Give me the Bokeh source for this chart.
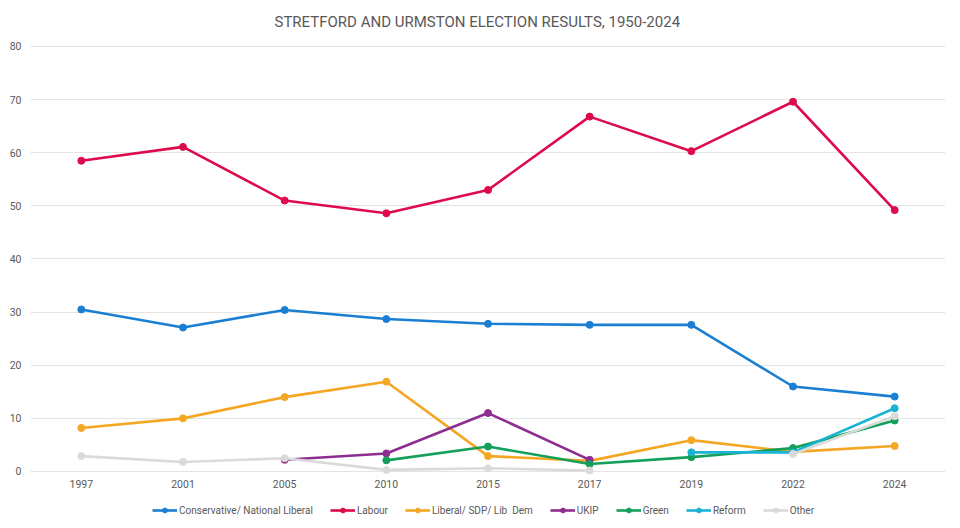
from bokeh.plotting import figure
from bokeh.models import ColumnDataSource, Range1d, FixedTicker, Legend, LegendItem
from bokeh.core.properties import value
from bokeh.embed import file_html
from bokeh.resources import INLINE

years = ["1997", "2001", "2005", "2010", "2015", "2017", "2019", "2022", "2024"]
conservative = [30.5, 27.1, 30.4, 28.7, 27.8, 27.6, 27.6, 16.0, 14.1]
labour = [58.5, 61.1, 51.0, 48.6, 53.0, 66.8, 60.3, 69.6, 49.2]
libdem = [8.2, 10.0, 14.0, 16.9, 2.9, 2.0, 5.9, 3.7, 4.8]
ukip = [None, None, 2.2, 3.4, 11.0, 2.2, None, None, None]
green = [None, None, None, 2.1, 4.7, 1.4, 2.7, 4.4, 9.6]
reform = [None, None, None, None, None, None, 3.6, 3.6, 11.9]
other = [2.9, 1.8, 2.5, 0.3, 0.6, 0.2, None, 3.3, 10.4]
y_ticks = [0, 10, 20, 30, 40, 50, 60, 70, 80]

series = [
    ("Conservative/ National Liberal", conservative, "#1A7FD2"),
    ("Labour", labour, "#DE0B4C"),
    ("Liberal/ SDP/ Lib  Dem", libdem, "#F5A623"),
    ("UKIP", ukip, "#8E2D91"),
    ("Green", green, "#12A05B"),
    ("Reform", reform, "#1BB3D3"),
    ("Other", other, "#DADADA"),
]

FONT = "Roboto"
GREY = "#595959"

p = figure(width=960, height=528, x_range=years, y_range=Range1d(-10.73, 80.94),
           output_backend="svg", toolbar_location=None,
           min_border_left=30, min_border_right=15, min_border_top=41, min_border_bottom=0)
p.x_range.range_padding = 0

p.title.text = "STRETFORD AND URMSTON ELECTION RESULTS, 1950-2024"
p.title.align = "left"
p.title.offset = 244
p.title.vertical_align = "middle"
p.title.text_font = FONT
p.title.text_font_size = "15px"
p.title.text_font_style = "normal"
p.title.text_color = GREY
p.title.standoff = 20

p.outline_line_color = None
p.xgrid.grid_line_color = None
p.ygrid.grid_line_color = "#E4E4E4"
p.ygrid.grid_line_width = 1
p.yaxis.ticker = FixedTicker(ticks=y_ticks)

yax = p.yaxis[0]
yax.axis_line_color = None
yax.major_tick_line_color = None
yax.minor_tick_line_color = None
yax.major_tick_out = 0
yax.major_tick_in = 0
yax.major_label_text_font = FONT
yax.major_label_text_font_size = "10.5px"
yax.major_label_text_color = GREY
yax.major_label_standoff = 9

# category labels drawn just under the zero line (the legend lives inside the frame)
p.xaxis.visible = False
lab_src = ColumnDataSource(dict(x=years, t=years))
p.text(x="x", y=0, text="t", source=lab_src, y_offset=13, text_align="center",
       text_baseline="middle", text_font=value(FONT), text_font_size="10.5px",
       text_color=GREY)

items = []
for name, vals, color in series:
    ys = [float("nan") if v is None else v for v in vals]
    src = ColumnDataSource(dict(x=years, y=ys))
    ln = p.line("x", "y", source=src, line_color=color, line_width=2.6)
    sc = p.scatter("x", "y", source=src, size=7, fill_color=color, line_color=color)
    items.append(LegendItem(label=name, renderers=[ln, sc]))

legend = Legend(items=items, orientation="horizontal", location=(122, 12),
                glyph_width=25, glyph_height=12, label_standoff=2, spacing=17,
                padding=0, margin=0, border_line_color=None, background_fill_alpha=0,
                label_text_font=FONT, label_text_font_size="10px", label_text_color=GREY)
p.add_layout(legend)

open("out.html", "w").write(file_html(p, INLINE))
